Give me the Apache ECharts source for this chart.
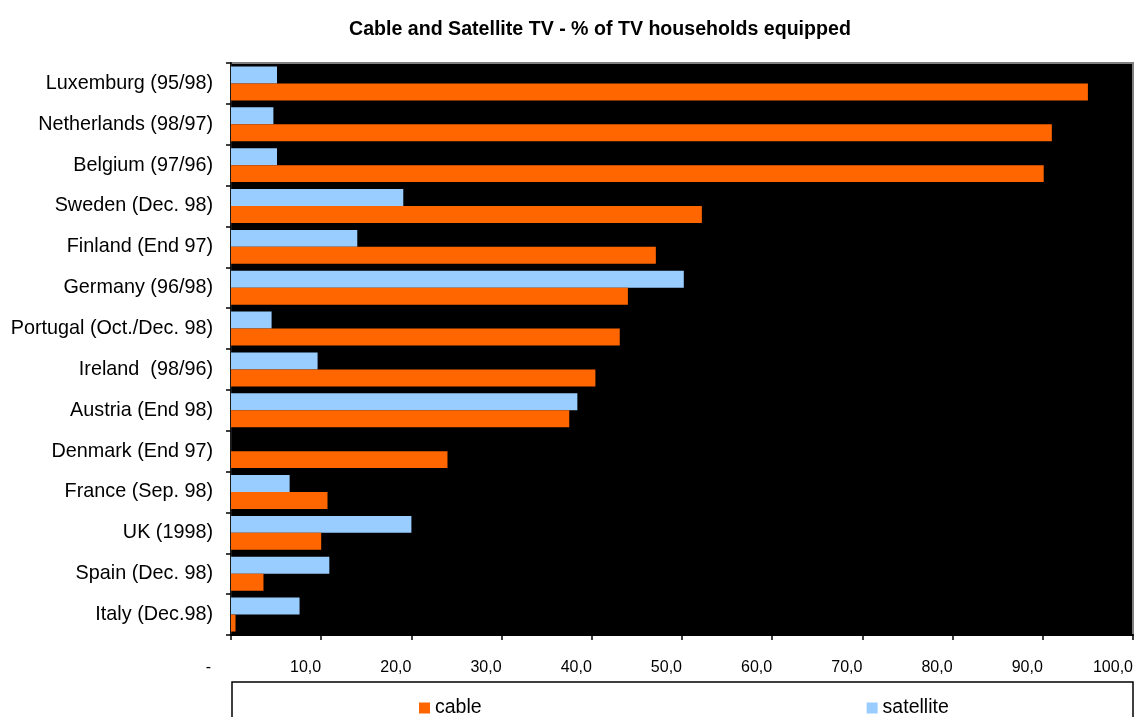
<!DOCTYPE html>
<html>
<head>
<meta charset="utf-8">
<script src="https://cdn.jsdelivr.net/npm/echarts@6/dist/echarts.min.js"></script>
<style>
  html, body { margin: 0; padding: 0; background: #fff; }
  #chart { width: 1139px; height: 717px; }
</style>
</head>
<body>
<div id="chart"></div>
<script>
// Countries, top to bottom
const countries = [
  'Luxemburg (95/98)', 'Netherlands (98/97)', 'Belgium (97/96)', 'Sweden (Dec. 98)',
  'Finland (End 97)', 'Germany (96/98)', 'Portugal (Oct./Dec. 98)', 'Ireland  (98/96)',
  'Austria (End 98)', 'Denmark (End 97)', 'France (Sep. 98)', 'UK (1998)',
  'Spain (Dec. 98)', 'Italy (Dec.98)'
];
// % of TV households with cable
const cable = [95.0, 91.0, 90.1, 52.2, 47.1, 44.0, 43.1, 40.4, 37.5, 24.0, 10.7, 10.0, 3.6, 0.5];
// % of TV households with satellite
const satellite = [5.1, 4.7, 5.1, 19.1, 14.0, 50.2, 4.5, 9.6, 38.4, 0, 6.5, 20.0, 10.9, 7.6];

const FONT = '"Liberation Sans", Arial, sans-serif';

const chart = echarts.init(document.getElementById('chart'));
chart.setOption({
  backgroundColor: '#ffffff',
  animation: false,
  textStyle: { fontFamily: FONT },
  title: {
    text: 'Cable and Satellite TV - % of TV households equipped',
    left: 344,
    top: 15,
    textStyle: { fontSize: 19.6, fontWeight: 'bold', color: '#000', fontFamily: FONT }
  },
  grid: {
    left: 231, right: 6, top: 63, bottom: 82,
    show: true,
    backgroundColor: '#000000',
    borderColor: '#808080',
    borderWidth: 2
  },
  legend: {
    data: ['cable', 'satellite'],
    left: 414,
    top: 693,
    itemGap: 385,
    itemWidth: 11,
    itemHeight: 11,
    icon: 'rect',
    textStyle: { fontSize: 19.5, color: '#000', fontFamily: FONT }
  },
  graphic: [{
    type: 'rect',
    shape: { x: 232, y: 682, width: 901, height: 60 },
    style: { fill: 'none', stroke: '#000', lineWidth: 1.5 },
    silent: true
  }],
  xAxis: {
    type: 'value',
    min: 0, max: 100, interval: 10,
    splitLine: { show: false },
    axisLine: { show: true, lineStyle: { color: '#000', width: 2 } },
    axisTick: { show: true, length: 5, lineStyle: { color: '#000', width: 1.5 } },
    axisLabel: {
      margin: 25,
      fontSize: 16,
      color: '#000',
      align: 'right',
      fontFamily: FONT,
      formatter: v => v === 0 ? '{z|-}' : v.toFixed(1).replace('.', ','),
      rich: { z: { fontSize: 16, padding: [0, 20, 0, 0], color: '#000' } }
    }
  },
  yAxis: {
    type: 'category',
    inverse: true,
    data: countries,
    axisLine: { show: true, lineStyle: { color: '#1a1a1a', width: 2 } },
    axisTick: { show: true, length: 5, lineStyle: { color: '#000', width: 1.5 } },
    axisLabel: { margin: 18, fontSize: 19.8, color: '#000', fontFamily: FONT }
  },
  series: [
    {
      name: 'satellite', type: 'bar', data: satellite,
      itemStyle: { color: '#99CCFF' },
      barGap: '0%', barCategoryGap: '17%'
    },
    {
      name: 'cable', type: 'bar', data: cable,
      itemStyle: { color: '#FF6600' },
      barGap: '0%', barCategoryGap: '17%'
    }
  ]
});
</script>
</body>
</html>
